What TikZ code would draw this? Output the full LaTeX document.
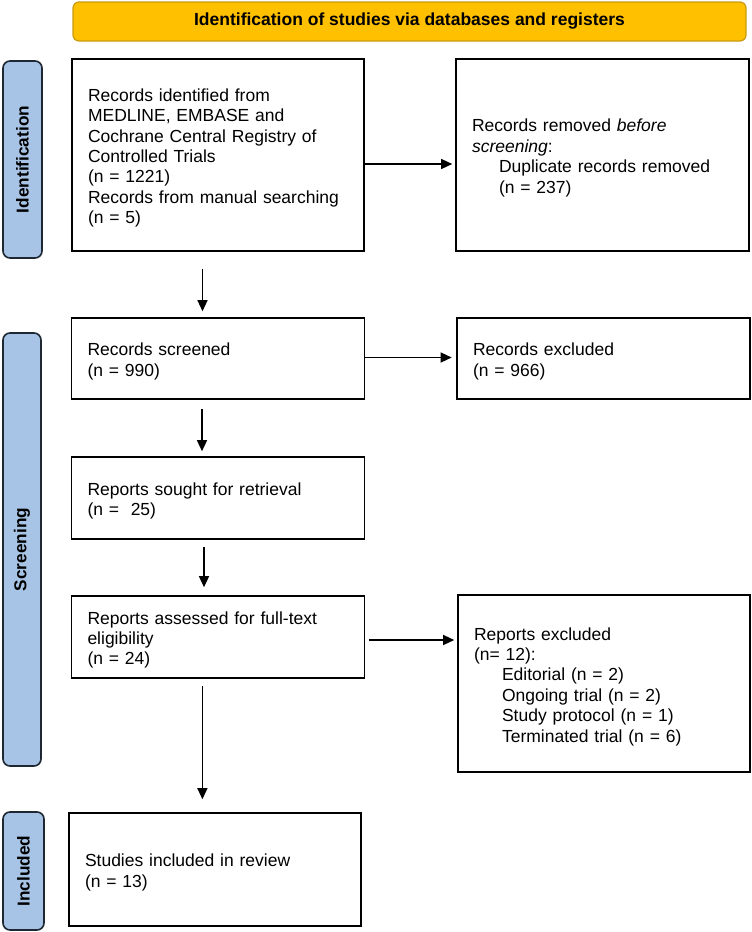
\documentclass[tikz,border=0pt]{standalone}
\usepackage{fontspec}
\setmainfont{Liberation Sans}
\usetikzlibrary{arrows.meta,calc}
\definecolor{gold}{HTML}{FFC000}
\definecolor{goldline}{HTML}{C89B10}
\definecolor{sideblue}{HTML}{A7C4E6}
\definecolor{sideline}{HTML}{1E2833}
\begin{document}
\begin{tikzpicture}[x=1pt,y=-1pt,
  every node/.style={font=\fontsize{17.5}{20.4}\selectfont},
  box/.style={draw=black, line width=1.6pt, inner sep=0pt, anchor=center},
  txt/.style={inner sep=0pt, align=left, anchor=center},
  sidebar/.style={draw=sideline, fill=sideblue, line width=1.6pt, rounded corners=7pt, inner sep=0pt, font=\fontsize{17.2}{20}\selectfont\bfseries},
  arr/.style={-{Triangle[length=11pt,width=10pt]}, line width=1.3pt}]
\useasboundingbox (0,0) rectangle (752,932);

\node[draw=goldline, fill=gold, line width=1.2pt, rounded corners=6pt, minimum width=673pt, minimum height=39pt, font=\fontsize{17.5}{20}\selectfont\bfseries] (banner) at (409.5,21.5) {Identification of studies via databases and registers};

\node[sidebar, minimum width=39pt, minimum height=197pt] (sideid) at (22.5,159.5) {\rotatebox{90}{Identification}};
\node[sidebar, minimum width=38pt, minimum height=433pt] (sidescr) at (22,549.5) {\rotatebox{90}{Screening}};
\node[sidebar, minimum width=41pt, minimum height=118pt] (sideinc) at (23.5,871) {\rotatebox{90}{Included}};

\node[box, minimum width=292pt, minimum height=192pt] (box1) at (218,155) {};
\node[box, minimum width=293pt, minimum height=192pt] (box2) at (602.5,155) {};
\node[box, minimum width=293pt, minimum height=81pt] (box3) at (218,358.5) {};
\node[box, minimum width=293pt, minimum height=81pt] (box4) at (603.5,358.5) {};
\node[box, minimum width=293pt, minimum height=82pt] (box5) at (218,498) {};
\node[box, minimum width=293pt, minimum height=82pt] (box6) at (218,637) {};
\node[box, minimum width=292pt, minimum height=177pt] (box7) at (604,683.5) {};
\node[box, minimum width=292pt, minimum height=113pt] (box8) at (215,869.5) {};

\node[txt, text width=260pt] (t1) at ($(box1.center)+(0,3)$) {Records identified from\\MEDLINE, EMBASE and\\Cochrane Central Registry of\\Controlled Trials\\(n = 1221)\\Records from manual searching\\(n = 5)};
\node[txt, text width=261pt] (t2) at ($(box2.center)+(0,3)$) {Records removed \textit{before}\\\textit{screening}:\\\hspace*{27pt}Duplicate records removed\\\hspace*{27pt}(n = 237)};
\node[txt, text width=261pt] (t3) at ($(box3.center)+(0,3)$) {Records screened\\(n = 990)};
\node[txt, text width=261pt] (t4) at ($(box4.center)+(0,3)$) {Records excluded\\(n = 966)};
\node[txt, text width=261pt] (t5) at ($(box5.center)+(0,3)$) {Reports sought for retrieval\\(n = \ 25)};
\node[txt, text width=261pt] (t6) at ($(box6.center)+(0,3)$) {Reports assessed for full-text\\eligibility\\(n = 24)};
\node[txt, text width=260pt] (t7) at ($(box7.center)+(0,3)$) {Reports excluded\\(n= 12):\\\hspace*{28pt}Editorial (n = 2)\\\hspace*{28pt}Ongoing trial (n = 2)\\\hspace*{28pt}Study protocol (n = 1)\\\hspace*{28pt}Terminated trial (n = 6)};
\node[txt, text width=260pt] (t8) at ($(box8.center)+(0,3)$) {Studies included in review\\(n = 13)};

\draw[arr, shorten <=17pt, shorten >=6pt] ($(box1.south)+(-15.5,0)$) coordinate (a1) -- (a1 |- box3.north);
\draw[arr, shorten >=3pt] ($(box1.east)+(0,9)$) coordinate (a2) -- (a2 -| box2.west);
\draw[arr, shorten >=4.5pt] ($(box3.east)+(0,-1)$) coordinate (a3) -- (a3 -| box4.west);
\draw[arr, shorten <=9pt, shorten >=5pt] ($(box3.south)+(-16,0)$) coordinate (a4) -- (a4 |- box5.north);
\draw[arr, shorten <=7pt, shorten >=8pt] ($(box5.south)+(-14,0)$) coordinate (a5) -- (a5 |- box6.north);
\draw[arr, shorten <=3.5pt, shorten >=3pt] ($(box6.east)+(0,3)$) coordinate (a6) -- (a6 -| box7.west);
\draw[arr, shorten <=7pt, shorten >=13pt] ($(box6.south)+(-15.6,0)$) coordinate (a7) -- (a7 |- box8.north);
\end{tikzpicture}
\end{document}
